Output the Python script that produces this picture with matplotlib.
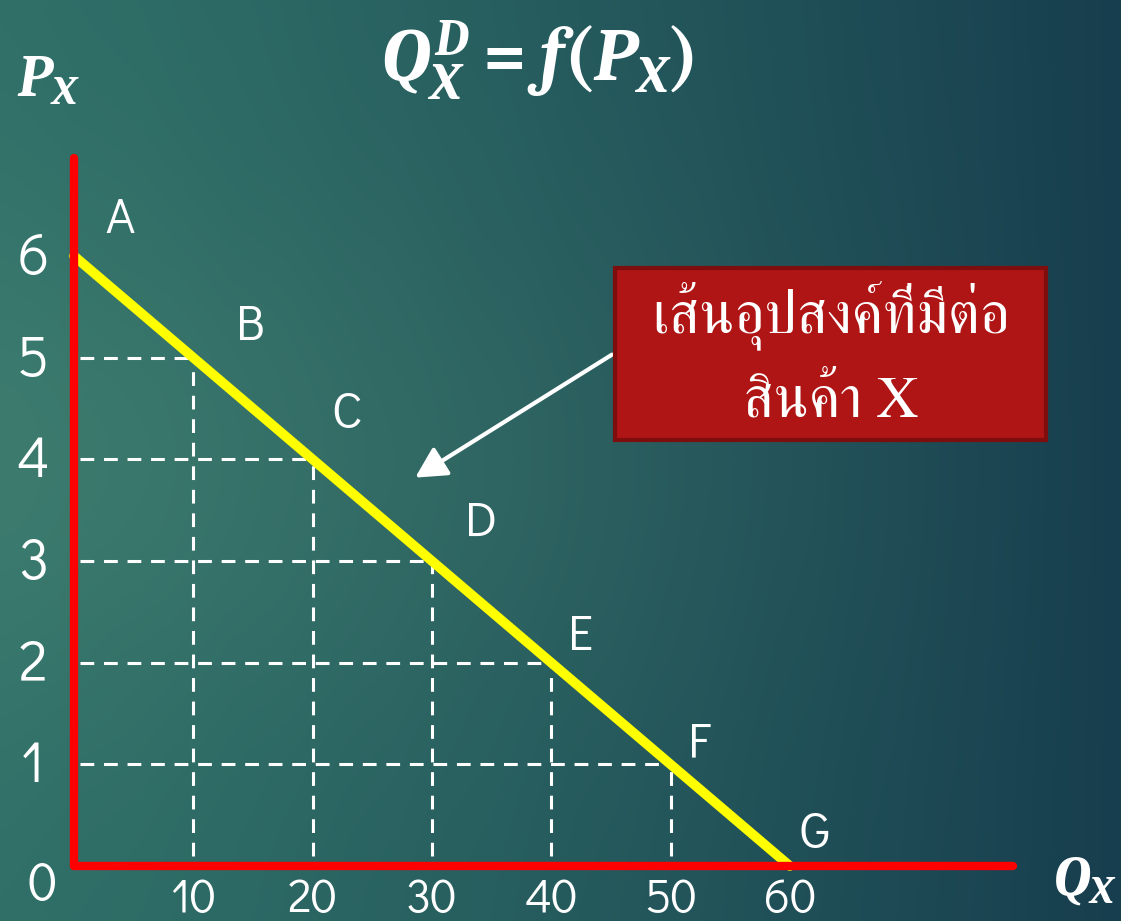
import numpy as np
import matplotlib
matplotlib.use('Agg')
import matplotlib.pyplot as plt
from matplotlib.patches import Rectangle

# demand schedule: price vs quantity demanded
points = ['A', 'B', 'C', 'D', 'E', 'F', 'G']
qty = [0, 10, 20, 30, 40, 50, 60]
price = [6, 5, 4, 3, 2, 1, 0]
price_ticks = [1, 2, 3, 4, 5, 6]
qty_ticks = [10, 20, 30, 40, 50, 60]
# where each point letter sits relative to its point (pixels)
label_offsets = [(46, 36), (57, 31), (34, 44), (49, 37), (29, 26), (29, 20), (25, 31)]
note_lines = ['เส้นอุปสงค์ที่มีต่อ', 'สินค้า X']

W, H = 1121, 921
X0, Y0 = 74, 866          # origin in pixels
SX, SY = 11.93, 101.67    # pixels per unit

plt.rcParams['mathtext.fontset'] = 'custom'
plt.rcParams['mathtext.it'] = 'Caladea:italic:bold'
plt.rcParams['mathtext.rm'] = 'Caladea:bold'
plt.rcParams['mathtext.bf'] = 'Caladea:bold'

fig = plt.figure(figsize=(W / 100, H / 100), dpi=100)
ax = fig.add_axes([0, 0, 1, 1])
xlim = (-X0 / SX, (W - X0) / SX)
ylim = ((Y0 - H) / SY, Y0 / SY)
ax.set_xlim(xlim)
ax.set_ylim(ylim)
ax.axis('off')

# teal background, lighter on the left
xs = np.linspace(0, 1, 400)
ys = np.linspace(0, 1, 300)
tx, ty = np.meshgrid(xs, ys)
left = np.array([47, 111, 104]) / 255
left_mid = np.array([60, 123, 110]) / 255
right = np.array([23, 62, 78]) / 255
bump = np.exp(-((ty - 0.5) / 0.3) ** 2)[..., None]
lcol = left + (left_mid - left) * bump
w = (tx ** 1.25)[..., None]
bg = lcol * (1 - w) + right * w
ax.imshow(bg, extent=(xlim[0], xlim[1], ylim[0], ylim[1]), aspect='auto', zorder=0)

# dashed guides from each point to both axes
for q, p in zip(qty[1:-1], price[1:-1]):
    ax.plot([0.5, q], [p, p], color='white', lw=2.2, dashes=(4.5, 3.2), zorder=2)
    ax.plot([q, q], [0.1, p], color='white', lw=2.2, dashes=(4.5, 3.2), zorder=2)

# demand curve
ax.plot(qty, price, color='#ffff00', lw=7, solid_capstyle='round', zorder=3)

# axes in red
ax.plot([0, 78.7], [0, 0], color='#ff0000', lw=6, solid_capstyle='round', zorder=4)
ax.plot([0, 0], [0, 6.96], color='#ff0000', lw=6, solid_capstyle='round', zorder=4)

gothic = 'Didact Gothic'
for name, q, p, off in zip(points, qty, price, label_offsets):
    ax.annotate(name, (q, p), xytext=off, textcoords='offset pixels',
                ha='center', va='center', fontsize=36, color='white', family=gothic, zorder=5)

for p in price_ticks:
    ax.annotate(str(p), (0, p), xytext=(-41, -3), textcoords='offset pixels',
                ha='center', va='center', fontsize=41, color='white', family=gothic)
for q in qty_ticks:
    ax.annotate(str(q), (q, 0), xytext=(0, -33), textcoords='offset pixels',
                ha='center', va='center', fontsize=34, color='white', family=gothic)
ax.annotate('0', (0, 0), xytext=(-32, -20), textcoords='offset pixels',
            ha='center', va='center', fontsize=38, color='white', family=gothic)

# axis names and the demand function
fig.text(48 / W, 1 - 80 / H, r'$P_X$', ha='center', va='center', fontsize=42, color='white')
fig.text(1085 / W, 1 - 880 / H, r'$Q_X$', ha='center', va='center', fontsize=40, color='white')
fig.text(537 / W, 1 - 60 / H, r'$Q_X^D = f(P_X)$', ha='center', va='center', fontsize=53, color='white')

# callout box with arrow to the curve
box = Rectangle((615 / W, 1 - 440 / H), 431 / W, 172 / H, transform=fig.transFigure,
                facecolor='#b01515', edgecolor='#7e0e0e', lw=3, zorder=6)
fig.patches.append(box)
fig.text(831 / W, 1 - 315 / H, note_lines[0], ha='center', va='center', fontsize=42,
         color='white', family='FreeSerif', zorder=7)
fig.text(831 / W, 1 - 403 / H, note_lines[1], ha='center', va='center', fontsize=42,
         color='white', family='FreeSerif', zorder=7)
ax.annotate('', xy=(28.6, 3.82), xytext=(45.1, 5.03),
            arrowprops=dict(arrowstyle='-|>,head_length=0.85,head_width=0.45', color='white',
                            lw=3, mutation_scale=22, shrinkA=0, shrinkB=0), zorder=5)

fig.savefig('out.png', dpi=100)
